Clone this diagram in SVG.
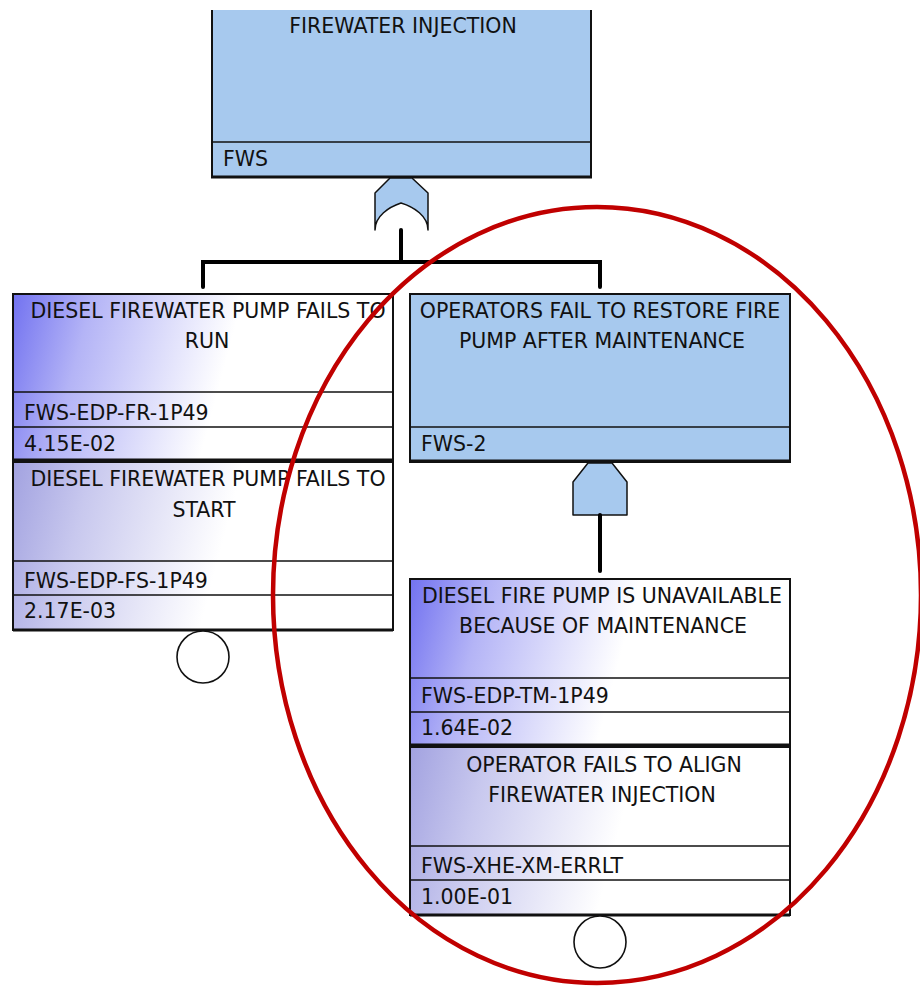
<svg xmlns="http://www.w3.org/2000/svg" width="920" height="986" viewBox="0 0 920 986">
  <defs>
    <linearGradient id="evStrong" x1="0" y1="0" x2="0.6" y2="0.07">
      <stop offset="0" stop-color="#7272F0"/>
      <stop offset="0.35" stop-color="#B4B4F6"/>
      <stop offset="1" stop-color="#FFFFFF"/>
    </linearGradient>
    <linearGradient id="evSoft" x1="0" y1="0" x2="0.6" y2="0.07">
      <stop offset="0" stop-color="#A2A2E0"/>
      <stop offset="0.35" stop-color="#C8C8EE"/>
      <stop offset="1" stop-color="#FFFFFF"/>
    </linearGradient>
  </defs>
  <style>
    text { font-family: "DejaVu Sans", Verdana, sans-serif; font-size: 20.5px; fill: #111; }
    .c { text-anchor: middle; }
    .frame { stroke: #111; stroke-width: 2; }
    .div { stroke: #111; stroke-width: 1.5; }
    .base { stroke: #111; stroke-width: 3; }
    .gate { fill: #A7C9EE; stroke: #111; stroke-width: 1.5; stroke-linejoin: round; }
    .basic { fill: #FFFFFF; stroke: #111; stroke-width: 1.6; }
    .wire { fill: none; stroke: #000; stroke-width: 4; stroke-linecap: round; stroke-linejoin: miter; }
    .gatebox { fill: #A7C9EE; }
  </style>

  <!-- top gate: FIREWATER INJECTION -->
  <g id="FWS">
    <rect class="gatebox" x="211" y="10" width="381" height="167"/>
    <line class="frame" x1="212" y1="10" x2="212" y2="177"/>
    <line class="frame" x1="591" y1="10" x2="591" y2="177"/>
    <line class="div" x1="212" y1="142" x2="591" y2="142"/>
    <line class="base" x1="211" y1="177" x2="592" y2="177"/>
    <text class="c" x="403" y="33">FIREWATER INJECTION</text>
    <text x="223" y="166">FWS</text>
    <!-- OR gate -->
    <path class="gate" d="M375,230 L375,193 L390,178 L412,178 L428,193 L428,230 C428,216 414,207 401,203 C389,207 375,216 375,230 Z"/>
  </g>

  <!-- basic event: fails to run -->
  <g id="FWS-EDP-FR-1P49">
    <rect x="13" y="294" width="380" height="166" fill="url(#evStrong)" class="frame"/>
    <line class="div" x1="13" y1="392" x2="393" y2="392"/>
    <line class="div" x1="13" y1="427" x2="393" y2="427"/>
    <line class="base" x1="13" y1="460" x2="393" y2="460"/>
    <text class="c" x="208" y="318">DIESEL FIREWATER PUMP FAILS TO</text>
    <text class="c" x="207" y="348">RUN</text>
    <text x="24" y="420">FWS-EDP-FR-1P49</text>
    <text x="24" y="451">4.15E-02</text>
  </g>

  <!-- basic event: fails to start -->
  <g id="FWS-EDP-FS-1P49">
    <rect x="13" y="462" width="380" height="168" fill="url(#evSoft)" class="frame"/>
    <line class="div" x1="13" y1="561" x2="393" y2="561"/>
    <line class="div" x1="13" y1="595" x2="393" y2="595"/>
    <line class="base" x1="13" y1="630" x2="393" y2="630"/>
    <text class="c" x="208" y="486">DIESEL FIREWATER PUMP FAILS TO</text>
    <text class="c" x="204" y="517">START</text>
    <text x="24" y="588">FWS-EDP-FS-1P49</text>
    <text x="24" y="618">2.17E-03</text>
    <circle class="basic" cx="203" cy="657" r="26"/>
  </g>

  <!-- gate: operators fail to restore fire pump -->
  <g id="FWS-2">
    <rect class="gatebox frame" x="410" y="294" width="380" height="168"/>
    <line class="div" x1="410" y1="427" x2="790" y2="427"/>
    <line class="base" x1="410" y1="461" x2="790" y2="461"/>
    <text class="c" x="600" y="318">OPERATORS FAIL TO RESTORE FIRE</text>
    <text class="c" x="602" y="348">PUMP AFTER MAINTENANCE</text>
    <text x="421" y="451">FWS-2</text>
    <!-- AND gate -->
    <path class="gate" d="M573,515 L573,482 L588,463 L612,463 L627,482 L627,515 Z"/>
  </g>

  <!-- basic event: pump unavailable due to maintenance -->
  <g id="FWS-EDP-TM-1P49">
    <rect x="410" y="579" width="380" height="166" fill="url(#evStrong)" class="frame"/>
    <line class="div" x1="410" y1="678" x2="790" y2="678"/>
    <line class="div" x1="410" y1="712" x2="790" y2="712"/>
    <line class="base" x1="410" y1="745" x2="790" y2="745"/>
    <text class="c" x="602" y="603">DIESEL FIRE PUMP IS UNAVAILABLE</text>
    <text class="c" x="603" y="633">BECAUSE OF MAINTENANCE</text>
    <text x="421" y="703">FWS-EDP-TM-1P49</text>
    <text x="421" y="735">1.64E-02</text>
  </g>

  <!-- basic event: operator fails to align -->
  <g id="FWS-XHE-XM-ERRLT">
    <rect x="410" y="747" width="380" height="168" fill="url(#evSoft)" class="frame"/>
    <line class="div" x1="410" y1="846" x2="790" y2="846"/>
    <line class="div" x1="410" y1="880" x2="790" y2="880"/>
    <line class="base" x1="410" y1="915" x2="790" y2="915"/>
    <text class="c" x="604" y="772">OPERATOR FAILS TO ALIGN</text>
    <text class="c" x="602" y="802">FIREWATER INJECTION</text>
    <text x="421" y="873">FWS-XHE-XM-ERRLT</text>
    <text x="421" y="904">1.00E-01</text>
    <circle class="basic" cx="600" cy="942" r="26"/>
  </g>

  <!-- connectors -->
  <g id="connectors">
    <path class="wire" d="M401,230 L401,262"/>
    <path class="wire" d="M203,287 L203,262 L600,262 L600,287"/>
    <path class="wire" d="M600,515 L600,571"/>
  </g>

  <!-- highlight ring -->
  <g id="highlight">
    <ellipse cx="597" cy="595" rx="324" ry="388" fill="none" stroke="#C00000" stroke-width="4.5"/>
  </g>
</svg>
